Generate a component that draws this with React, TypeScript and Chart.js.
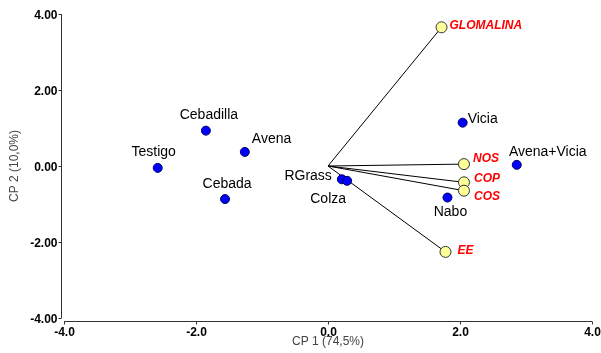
import React, { useEffect, useRef } from "react";
import { Chart, registerables } from "chart.js";

Chart.register(...registerables);

// Sites (blue)
const siteNames = ["Testigo", "Cebadilla", "Avena", "Cebada", "RGrass", "Colza", "Vicia", "Avena+Vicia", "Nabo"];
const siteX = [-2.58, -1.85, -1.26, -1.56, 0.21, 0.29, 2.04, 2.86, 1.81];
const siteY = [-0.05, 0.93, 0.37, -0.87, -0.35, -0.39, 1.14, 0.03, -0.83];

// Variables (yellow vectors)
const varNames = ["GLOMALINA", "NOS", "COP", "COS", "EE"];
const varX = [1.72, 2.06, 2.06, 2.06, 1.78];
const varY = [3.65, 0.05, -0.43, -0.65, -2.26];

const xTicks = [-4, -2, 0, 2, 4];
const yTicks = [-4, -2, 0, 2, 4];
const xTitle = "CP 1 (74,5%)";
const yTitle = "CP 2 (10,0%)";

// label placement (pixel offsets, alignment)
const siteLabelPos: [number, number, CanvasTextAlign][] = [
  [-4, -16, "center"],
  [3, -16, "center"],
  [7, -13, "left"],
  [2, -15, "center"],
  [-10, -3, "right"],
  [-19, 18, "center"],
  [5, -4, "left"],
  [31, -13, "center"],
  [3, 15, "center"],
];
const varLabelPos: [number, number, CanvasTextAlign][] = [
  [8, -2, "left"],
  [9, -5, "left"],
  [10, -4, "left"],
  [10, 6, "left"],
  [12, -1, "left"],
];

const FONT = "Arial, 'Liberation Sans', sans-serif";

const axesPlugin = {
  id: "customAxes",
  afterDraw(chart: any) {
    const ctx = chart.ctx as CanvasRenderingContext2D;
    const xs = chart.scales.x;
    const ys = chart.scales.y;
    const area = chart.chartArea;
    ctx.save();
    ctx.strokeStyle = "#333";
    ctx.lineWidth = 1;
    // y axis line
    const axX = Math.round(area.left) - 3 + 0.5;
    ctx.beginPath();
    ctx.moveTo(axX, ys.getPixelForValue(4));
    ctx.lineTo(axX, ys.getPixelForValue(-4));
    ctx.stroke();
    // y ticks
    ctx.fillStyle = "#000";
    ctx.font = `bold 12px ${FONT}`;
    ctx.textAlign = "right";
    ctx.textBaseline = "middle";
    yTicks.forEach((v) => {
      const py = Math.round(ys.getPixelForValue(v)) + 0.5;
      ctx.beginPath();
      ctx.moveTo(axX - 3, py);
      ctx.lineTo(axX, py);
      ctx.stroke();
      ctx.fillText(v.toFixed(2), axX - 4, py + 1);
    });
    // x axis line
    const axY = Math.round(area.bottom) + 3 + 0.5;
    ctx.beginPath();
    ctx.moveTo(xs.getPixelForValue(-4), axY);
    ctx.lineTo(xs.getPixelForValue(4), axY);
    ctx.stroke();
    ctx.textAlign = "center";
    ctx.textBaseline = "top";
    xTicks.forEach((v) => {
      const px = Math.round(xs.getPixelForValue(v)) + 0.5;
      ctx.beginPath();
      ctx.moveTo(px, axY);
      ctx.lineTo(px, axY + 3);
      ctx.stroke();
      ctx.fillText(v.toFixed(1), px, axY + 5);
    });
    // titles
    ctx.fillStyle = "#444";
    ctx.font = `12px ${FONT}`;
    ctx.textAlign = "center";
    ctx.textBaseline = "middle";
    ctx.fillText(xTitle, xs.getPixelForValue(0), 342);
    ctx.save();
    ctx.translate(15, ys.getPixelForValue(0));
    ctx.rotate(-Math.PI / 2);
    ctx.fillText(yTitle, 0, 0);
    ctx.restore();
    ctx.restore();
  },
  afterDatasetsDraw(chart: any) {
    const ctx = chart.ctx as CanvasRenderingContext2D;
    const xs = chart.scales.x;
    const ys = chart.scales.y;
    ctx.save();
    ctx.textBaseline = "middle";
    ctx.fillStyle = "#000";
    ctx.font = `14px ${FONT}`;
    siteNames.forEach((n, i) => {
      const [dx, dy, al] = siteLabelPos[i];
      ctx.textAlign = al;
      ctx.fillText(n, xs.getPixelForValue(siteX[i]) + dx, ys.getPixelForValue(siteY[i]) + dy);
    });
    ctx.fillStyle = "#ff0000";
    ctx.font = `italic bold 12px ${FONT}`;
    varNames.forEach((n, i) => {
      const [dx, dy, al] = varLabelPos[i];
      ctx.textAlign = al;
      ctx.fillText(n, xs.getPixelForValue(varX[i]) + dx, ys.getPixelForValue(varY[i]) + dy);
    });
    ctx.restore();
  },
};

export default function App() {
  const ref = useRef<HTMLCanvasElement>(null);
  useEffect(() => {
    document.body.style.margin = "0";
    const vectorSets = varNames.map((n, i) => ({
      type: "line" as const,
      label: "v-" + n,
      data: [
        { x: 0, y: 0 },
        { x: varX[i], y: varY[i] },
      ],
      borderColor: "#000",
      borderWidth: 1,
      pointRadius: 0,
      showLine: true,
      fill: false,
      order: 10,
    }));
    const chart = new Chart(ref.current!, {
      type: "scatter",
      data: {
        datasets: [
          ...vectorSets,
          {
            label: "vars",
            data: varX.map((x, i) => ({ x, y: varY[i] })),
            backgroundColor: "#ffff99",
            borderColor: "#333",
            borderWidth: 1,
            pointRadius: 5.5,
            order: 2,
          } as any,
          {
            label: "sites",
            data: siteX.map((x, i) => ({ x, y: siteY[i] })),
            backgroundColor: "#0000ff",
            borderColor: "#000060",
            borderWidth: 1,
            pointRadius: 4.5,
            order: 1,
          },
        ],
      },
      options: {
        animation: false,
        responsive: false,
        maintainAspectRatio: false,
        layout: { padding: { left: 64, right: 9, top: 14, bottom: 35 } },
        plugins: { legend: { display: false }, tooltip: { enabled: false } },
        scales: {
          x: { type: "linear", min: -4, max: 4, display: false },
          y: { type: "linear", min: -4, max: 4, display: false },
        },
      },
      plugins: [axesPlugin],
    });
    return () => chart.destroy();
  }, []);
  return (
    <div style={{ position: "absolute", left: 0, top: 0, width: 601, height: 353, background: "#fff" }}>
      <canvas ref={ref} width={601} height={353} style={{ width: 601, height: 353 }} />
    </div>
  );
}
